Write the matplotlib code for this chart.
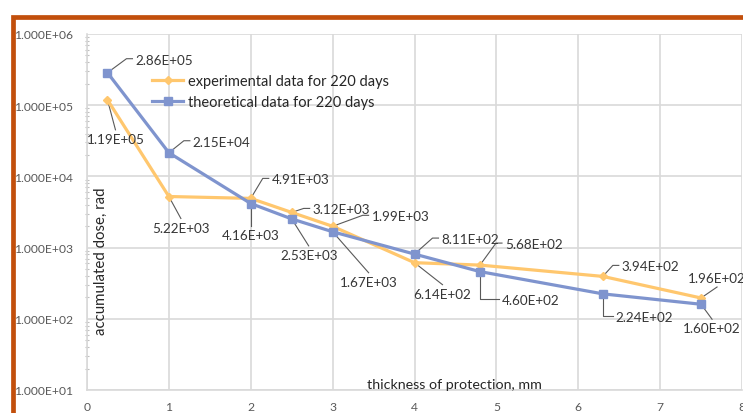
import matplotlib
matplotlib.use('Agg')
import matplotlib.pyplot as plt
from matplotlib.lines import Line2D
from matplotlib.transforms import IdentityTransform
from matplotlib.ticker import LogLocator, NullFormatter

# ---------------------------------------------------------------------- DATA
thickness = [0.25, 1, 2, 2.5, 3, 4, 4.8, 6.3, 7.5]
dose_exp = [1.19e5, 5.22e3, 4.91e3, 3.12e3, 1.99e3, 6.14e2, 5.68e2, 3.94e2, 1.96e2]
dose_theor = [2.86e5, 2.15e4, 4.16e3, 2.53e3, 1.67e3, 8.11e2, 4.60e2, 2.24e2, 1.60e2]

x_ticks = [0, 1, 2, 3, 4, 5, 6, 7, 8]
y_ticks = [1e1, 1e2, 1e3, 1e4, 1e5, 1e6]
y_ticklabels = ['1.000E+01', '1.000E+02', '1.000E+03', '1.000E+04', '1.000E+05', '1.000E+06']

lbl_exp = 'experimental data for 220 days'
lbl_theor = 'theoretical data for 220 days'

# label offsets in pixels (dx right, dy down) and leader style
pos_exp = [(8, 33, 'T'), (12, 25, 'T'), (21, -20, 'L'), (21, -4, 'L'), (39, -11, 'L'),
           (28, 25, 'T'), (25, -22, 'L'), (19, -11, 'L'), (16, -14, 'B')]
pos_theor = [(28, -14, 'L'), (24, -12, 'L'), (0, 25, 'T'), (17, 30, 'T'), (36, 44, 'T'),
             (27, -16, 'L'), (22, 27, 'D'), (13, 22, 'D'), (11, 18, 'T')]

# -------------------------------------------------------------------- STYLE
plt.rcParams['font.family'] = ['Lato', 'DejaVu Sans']
c_exp = '#FFC76E'
c_theor = '#7F94CE'
c_grid = '#D9D9D9'
c_txt = '#363636'
c_border = '#C24F0C'

W, H = 743, 414
fig = plt.figure(figsize=(W / 100, H / 100), dpi=100)
ax = fig.add_axes([87 / W, 1 - 391 / H, 655 / W, 356 / H])

ax.set_yscale('log')
ax.set_xlim(0, 8)
ax.set_ylim(1e1, 1e6)

ax.plot(thickness, dose_exp, color=c_exp, lw=2.3, marker='D', ms=4.5,
        label=lbl_exp, zorder=3)
ax.plot(thickness, dose_theor, color=c_theor, lw=2.3, marker='s', ms=6,
        label=lbl_theor, zorder=4)

# axes, grid, ticks
ax.set_xticks(x_ticks)
ax.set_yticks(y_ticks)
ax.set_yticklabels(y_ticklabels)
ax.yaxis.set_minor_locator(LogLocator(base=10, subs=range(2, 10)))
ax.yaxis.set_minor_formatter(NullFormatter())
ax.grid(True, which='major', color=c_grid, lw=1.2)
ax.set_axisbelow(True)
for s in ['top', 'right']:
    ax.spines[s].set_visible(False)
for s in ['left', 'bottom']:
    ax.spines[s].set_color(c_grid)
    ax.spines[s].set_linewidth(1.2)
ax.tick_params(axis='both', which='major', length=0, labelsize=8.7, labelcolor='#595959')
ax.tick_params(axis='x', pad=8)
ax.tick_params(axis='y', pad=10)
ax.tick_params(axis='y', which='minor', direction='inout', length=3, width=0.8, color='#BFBFBF')

# axis titles sit inside the plotting area
ax.text(454, H - 385, 'thickness of protection, mm', transform=IdentityTransform(),
        ha='center', va='center', fontsize=10.3, color='#262626')
ax.text(101, H - 261, 'accumulated dose, rad', transform=IdentityTransform(),
        ha='center', va='center', rotation=90, fontsize=10.8, color='#262626')

# legend
ax.legend(loc='upper left', bbox_to_anchor=(152 / W, 1 - 75 / H), bbox_transform=fig.transFigure,
          frameon=False, fontsize=10.5, handlelength=2.15, handletextpad=0.35,
          labelspacing=0.5, borderpad=0, borderaxespad=0, labelcolor='#262626')


# ------------------------------------------------------------- DATA LABELS
def put_label(x, y, dx, dy, mode):
    px, py = ax.transData.transform((x, y))
    tx, ty = px + dx, py - dy
    if mode == 'L':
        path = [(px, py), (tx - 9, ty), (tx - 3, ty)]
        ha, va = 'left', 'center_baseline'
    elif mode == 'D':
        path = [(px, py), (px, ty), (tx - 3, ty)]
        ha, va = 'left', 'center_baseline'
    elif mode == 'T':
        path = [(px, py), (tx, ty + 3)]
        ha, va = 'center', 'top'
    else:
        path = [(px, py), (tx, ty - 3)]
        ha, va = 'center', 'bottom'
    xs, ys = zip(*path)
    ax.add_line(Line2D(xs, ys, transform=IdentityTransform(), color='#595959',
                       lw=0.8, zorder=1.5, clip_on=False))
    ax.text(tx, ty, '%.2E' % y, transform=IdentityTransform(), ha=ha, va=va,
            fontsize=9.7, color=c_txt, clip_on=False)


for x, y, p in zip(thickness, dose_exp, pos_exp):
    put_label(x, y, *p)
for x, y, p in zip(thickness, dose_theor, pos_theor):
    put_label(x, y, *p)

# outer frame on the left and top
fig.add_artist(Line2D([13, 13, W + 5], [-5, H - 17.5, H - 17.5], transform=IdentityTransform(),
                      color=c_border, lw=3.4, solid_joinstyle='miter'))

fig.savefig('out.png', dpi=100)
